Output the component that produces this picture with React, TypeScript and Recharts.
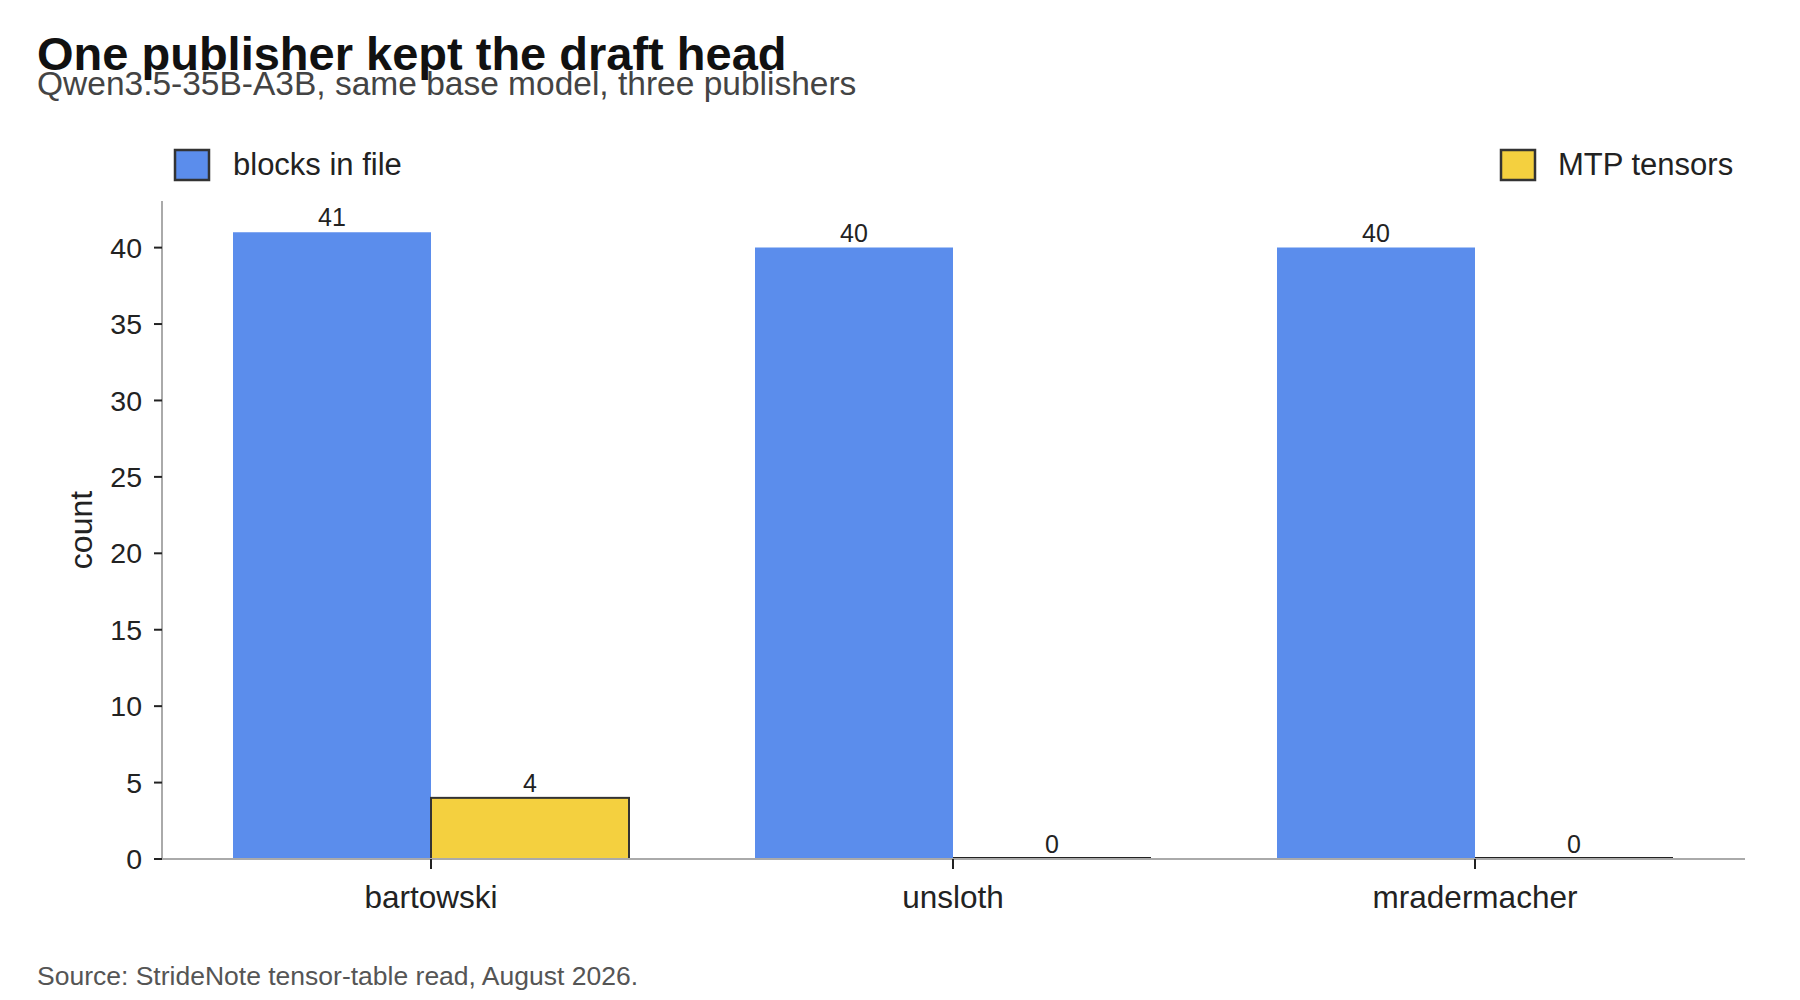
import { BarChart, Bar, XAxis, YAxis, LabelList } from 'recharts';

const publishers = ['bartowski', 'unsloth', 'mradermacher'];
const blocksInFile = [41, 40, 40];
const mtpTensors = [4, 0, 0];
const yTicks = [0, 5, 10, 15, 20, 25, 30, 35, 40];

const seriesNames = ['blocks in file', 'MTP tensors'];
const seriesColors = ['#5B8DEC', '#F4D03F'];

const FONT = '"Liberation Sans", Arial, Helvetica, sans-serif';

const data = publishers.map((name, i) => ({
  name,
  blocks: blocksInFile[i],
  mtp: mtpTensors[i],
}));

// outlined bar; a zero value still shows as a flat edge on the baseline
const OutlinedBar = (props: any) => {
  const { x, y, width, height, fill } = props;
  if (!height || height < 1) {
    return <line x1={x} x2={x + width} y1={y - 1} y2={y - 1} stroke="#222" strokeWidth={2} />;
  }
  return <rect x={x} y={y} width={width} height={height} fill={fill} stroke="#333" strokeWidth={2} />;
};

const CountLabel = (props: any) => {
  const vb = props.viewBox || {};
  const cx = 81;
  const cy = (vb.y ?? 0) + (vb.height ?? 0) / 2;
  return (
    <text x={cx} y={cy} transform={`rotate(-90 ${cx} ${cy})`} textAnchor="middle" dominantBaseline="central"
      fontSize={32} fill="#222" fontFamily={FONT}>
      count
    </text>
  );
};

export default function App() {
  return (
    <div style={{ position: 'absolute', left: 0, top: 0, width: 1800, height: 1000, background: '#fff', fontFamily: FONT }}>
      <BarChart width={1800} height={1000} data={data} margin={{ top: 201, right: 55, left: 0, bottom: 0 }}
        barCategoryGap={63} barGap={0}>
        <XAxis dataKey="name" height={141} padding={{ left: 8, right: 9 }}
          axisLine={{ stroke: '#aaa', strokeWidth: 2 }} tickLine={{ stroke: '#222', strokeWidth: 2 }}
          tickSize={10} tickMargin={17} tick={{ fontSize: 31.5, fill: '#222', fontFamily: FONT }} />
        <YAxis width={162} domain={[0, 43.05]} ticks={yTicks} interval={0}
          axisLine={{ stroke: '#aaa', strokeWidth: 2 }} tickLine={{ stroke: '#222', strokeWidth: 2 }}
          tickSize={8} tickMargin={12} tick={{ fontSize: 28.5, fill: '#222', fontFamily: FONT }}
          label={{ content: CountLabel }} />
        <Bar dataKey="blocks" name={seriesNames[0]} fill={seriesColors[0]} isAnimationActive={false}>
          <LabelList dataKey="blocks" position="top" offset={6} fontSize={25} fill="#222" fontFamily={FONT} />
        </Bar>
        <Bar dataKey="mtp" name={seriesNames[1]} fill={seriesColors[1]} shape={OutlinedBar} isAnimationActive={false}>
          <LabelList dataKey="mtp" position="top" offset={6} fontSize={25} fill="#222" fontFamily={FONT} />
        </Bar>
      </BarChart>
      <svg width={1800} height={1000} style={{ position: 'absolute', left: 0, top: 0, pointerEvents: 'none' }}
        fontFamily={FONT}>
        <text x={37} y={70} fontSize={47} fontWeight="bold" fill="#111">One publisher kept the draft head</text>
        <text x={37} y={95} fontSize={33.5} fill="#444">Qwen3.5-35B-A3B, same base model, three publishers</text>
        <rect x={175} y={150} width={34} height={30} fill={seriesColors[0]} stroke="#333" strokeWidth={2.5} />
        <text x={233} y={175} fontSize={31} fill="#222">{seriesNames[0]}</text>
        <rect x={1501} y={150} width={34} height={30} fill={seriesColors[1]} stroke="#333" strokeWidth={2.5} />
        <text x={1558} y={175} fontSize={31} fill="#222">{seriesNames[1]}</text>
        <text x={37} y={985} fontSize={26.5} fill="#555">Source: StrideNote tensor-table read, August 2026.</text>
      </svg>
    </div>
  );
}
